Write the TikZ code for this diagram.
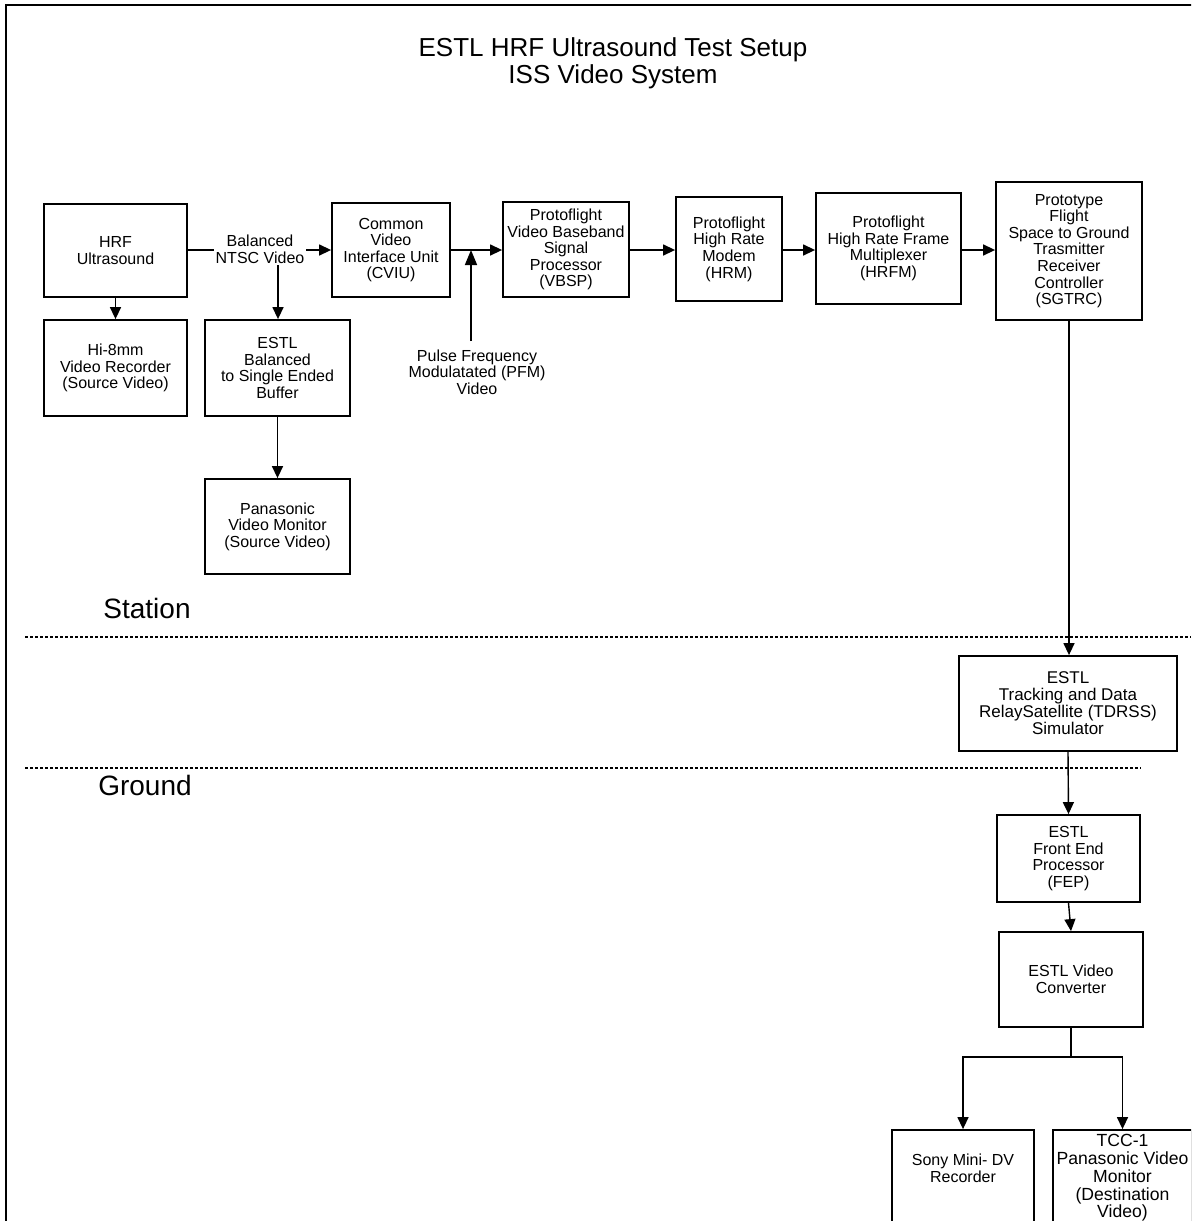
\documentclass[tikz,border=0pt]{standalone}
\usepackage{fontspec}
\setmainfont{Liberation Sans}
\usetikzlibrary{arrows.meta}
\begin{document}
\begin{tikzpicture}[x=0.5pt,y=-0.5pt,
  box/.style={draw,line width=0.9pt,align=center,font=\fontsize{8}{8.3}\selectfont,inner sep=0pt},
  arr/.style={line width=0.7pt,-{Triangle[length=6pt,width=5.5pt]}},
  bigarr/.style={line width=0.8pt,-{Triangle[length=7.5pt,width=6pt]}},
  ln/.style={line width=0.7pt},
  dsh/.style={line width=0.6pt,dash pattern=on 1.5pt off 1pt},
  lbl/.style={align=center,font=\fontsize{8}{8.3}\selectfont,inner sep=1pt}]
\clip (0,0) rectangle (1191,1221);
\fill[white] (0,0) rectangle (1191,1221);
\draw[line width=1.3pt] (6,1230) -- (6,5) -- (1200,5);

\node[align=center,font=\fontsize{13}{13.5}\selectfont] (title) at (613,63.5) {ESTL HRF Ultrasound Test Setup\\ISS Video System};
\node[font=\fontsize{14}{16}\selectfont] (station) at (147,608) {Station};
\node[font=\fontsize{14}{16}\selectfont] (ground) at (145,785) {Ground};

\draw[dsh] (25,637) -- (1191,637);
\draw[dsh] (25,768) -- (1141,768);

\node[box,minimum width=71.5pt,minimum height=46.5pt] (hrf) at (115.5,250.5) {HRF\\Ultrasound};
\node[box,minimum width=71.5pt,minimum height=48pt] (hi8) at (115.5,368) {Hi-8mm\\Video Recorder\\(Source Video)};
\node[box,minimum width=72.5pt,minimum height=48pt] (buf) at (277.5,368) {ESTL\\Balanced\\to Single Ended\\Buffer};
\node[box,minimum width=72.5pt,minimum height=47.5pt] (pan) at (277.5,526.5) {Panasonic\\Video Monitor\\(Source Video)};
\node[box,minimum width=59pt,minimum height=47pt] (cviu) at (391,250) {Common\\Video\\Interface Unit\\(CVIU)};
\node[box,minimum width=63pt,minimum height=47.5pt] (vbsp) at (566,249.5) {Protoflight\\Video Baseband\\Signal\\Processor\\(VBSP)};
\node[box,minimum width=53pt,minimum height=52pt] (hrm) at (729,249) {Protoflight\\High Rate\\Modem\\(HRM)};
\node[box,minimum width=72.5pt,minimum height=55.5pt] (hrfm) at (888.5,248.5) {Protoflight\\High Rate Frame\\Multiplexer\\(HRFM)};
\node[box,minimum width=73pt,minimum height=69pt] (sgtrc) at (1069,251) {Prototype\\Flight\\Space to Ground\\Trasmitter\\Receiver\\Controller\\(SGTRC)};
\node[box,minimum width=109pt,minimum height=47.5pt,font=\fontsize{8.5}{8.5}\selectfont] (tdrss) at (1068,703.5) {ESTL\\Tracking and Data\\RelaySatellite (TDRSS)\\Simulator};
\node[box,minimum width=71.5pt,minimum height=43.5pt] (fep) at (1068.5,858.5) {ESTL\\Front End\\Processor\\(FEP)};
\node[box,minimum width=72pt,minimum height=47.5pt] (conv) at (1071,979.5) {ESTL Video\\Converter};
\node[box,minimum width=71pt,minimum height=55pt] (sony) at (963,1185) {Sony Mini- DV\\Recorder\\\mbox{}\\\mbox{}};
\node[box,minimum width=69.5pt,minimum height=55pt,font=\fontsize{8.8}{8.9}\selectfont] (tcc) at (1122.5,1185) {TCC-1\\Panasonic Video\\Monitor\\(Destination\\Video)\\\mbox{}};

\node[lbl] (pfm) at (477,372) {Pulse Frequency\\Modulatated (PFM)\\Video};

\coordinate (j1) at (278,250);
\coordinate (j2) at (471,250);
\coordinate (br) at (1071,1057);

\draw[arr] (hrf.east |- j1) -- (cviu.west |- j1);
\draw[arr] (j1) -- (buf.north -| j1);
\node[lbl,fill=white] (bnl) at (260,249) {Balanced\\NTSC Video};
\draw[arr] (hrf.south) -- (hi8.north);
\draw[arr] (buf.south) -- (pan.north);
\draw[arr] (cviu.east |- j2) -- (vbsp.west |- j2);
\draw[bigarr] ([yshift=3pt]pfm.north -| j2) -- (j2);
\draw[arr] (vbsp.east |- j2) -- (hrm.west |- j2);
\draw[arr] (hrm.east |- j2) -- (hrfm.west |- j2);
\draw[arr] (hrfm.east |- j2) -- (sgtrc.west |- j2);
\draw[arr] (sgtrc.south) -- (sgtrc.south |- tdrss.north);
\draw[arr] (tdrss.south) -- (fep.north);
\draw[arr] (fep.south) -- (conv.north);
\draw[ln] (conv.south) -- (br);
\draw[arr] (br) -| (sony.north);
\draw[arr] (br) -| (tcc.north);
\end{tikzpicture}
\end{document}
